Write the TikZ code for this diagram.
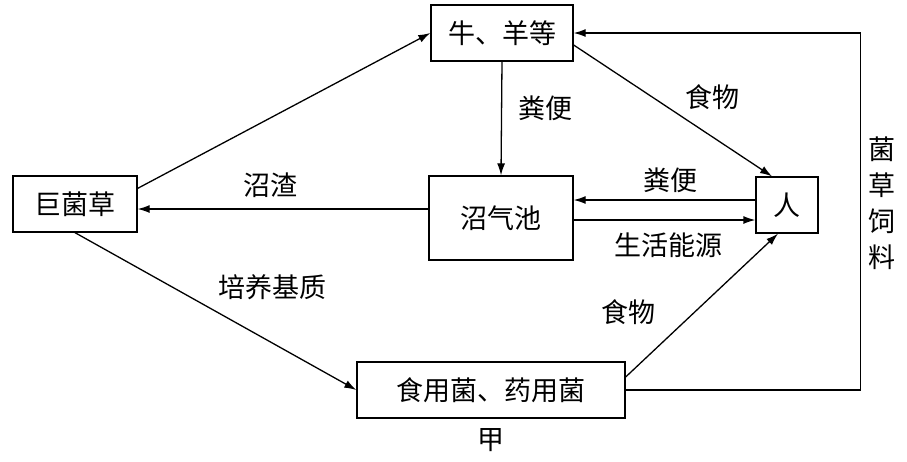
\documentclass[tikz,border=0pt]{standalone}
\usepackage{fontspec}
\newfontfamily\cjk{Noto Sans CJK SC}
\usetikzlibrary{arrows.meta,positioning,calc}

\begin{document}
\begin{tikzpicture}[x=1pt,y=1pt]
		\tikzstyle{box} = [draw,line width=1.3pt,inner sep=0pt,font=\cjk\fontsize{27}{36}\selectfont]
		\tikzstyle{lbl} = [inner sep=0pt,font=\cjk\fontsize{27}{36}\selectfont]
		\tikzstyle{myarrow} = [-{Latex[length=12pt,width=8pt]},line width=1.3pt]
		
		\useasboundingbox (0,0) rectangle (907,-461);
		
		% Nodes
		\node [box, minimum width=142, minimum height=56] (niuyang) at (502,-33) {牛、羊等};
		\node [box, minimum width=124, minimum height=56] (jujuncao) at (75,-204) {巨菌草};
		\node [box, minimum width=144, minimum height=84] (zhaoqichi) at (501,-218) {沼气池};
		\node [box, minimum width=62, minimum height=56] (ren) at (787,-205) {人};
		\node [box, minimum width=268, minimum height=56] (junlei) at (491,-390) {食用菌、药用菌};
		\node [lbl, below=10pt of junlei] (jia) {甲};
		
		% Labels
		\node [lbl] (fenbianA) at (545,-108) {粪便};
		\node [lbl] (shiwuA) at (712,-97) {食物};
		\node [lbl] (zhaozha) at (270,-185) {沼渣};
		\node [lbl] (fenbianB) at (670,-180) {粪便};
		\node [lbl] (nengyuan) at (668,-245) {生活能源};
		\node [lbl] (jizhi) at (272,-287) {培养基质};
		\node [lbl] (shiwuB) at (628,-312) {食物};
		\node [lbl, align=center] (siliao) at (882,-203) {菌\\草\\饲\\料};
		
		% Arrows
		\draw [myarrow] (jujuncao.14) -- (niuyang.west);
		\draw [myarrow] (jujuncao.south) -- (junlei.west);
		\draw [myarrow] ([yshift=9pt]zhaoqichi.west) -- ([yshift=-5pt]jujuncao.east);
		\draw [myarrow] (niuyang.south) -- (zhaoqichi.north);
		\draw [myarrow] ([yshift=5pt]ren.west) -- ([yshift=18pt]zhaoqichi.east);
		\draw [myarrow] ([yshift=-2pt]zhaoqichi.east) -- ([yshift=-15pt]ren.west);
		\draw [myarrow] ([yshift=-12pt]niuyang.east) -- ([xshift=-15pt]ren.north);
		\draw [myarrow] ([yshift=13pt]junlei.east) -- ([xshift=-9pt]ren.south);
		\draw [myarrow] (junlei.east) -- ++(235,0) |- (niuyang.east);
	\end{tikzpicture}
\end{document}
